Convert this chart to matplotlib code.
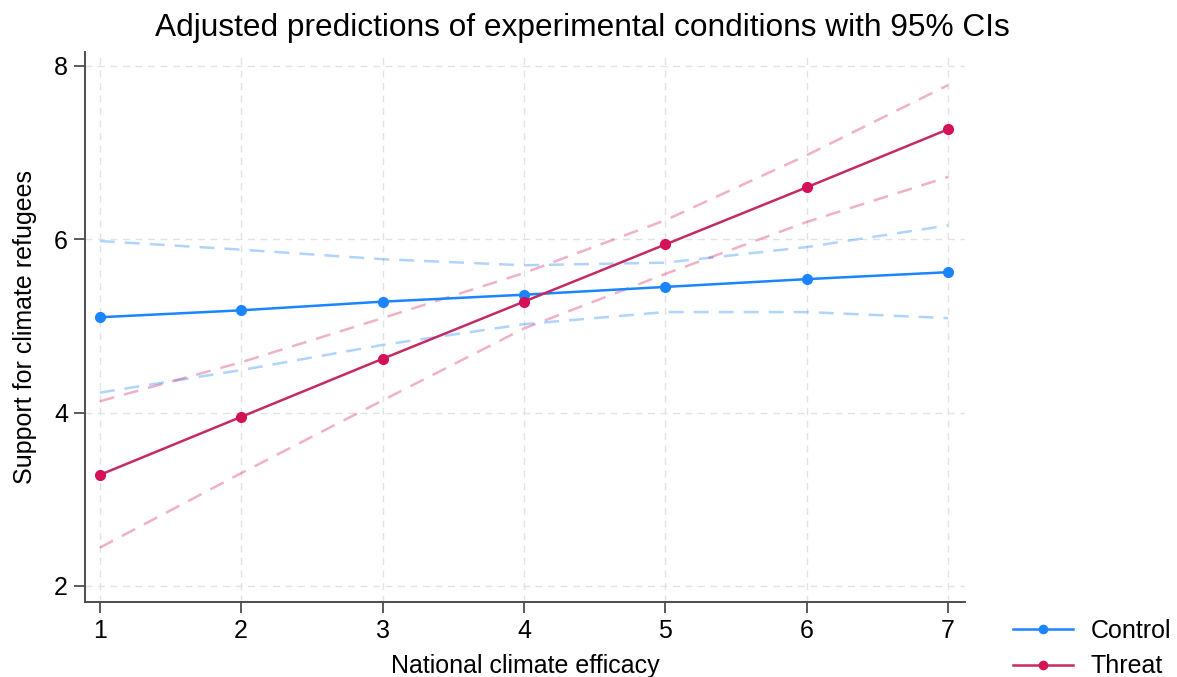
import matplotlib.pyplot as plt

plt.rcParams['font.family'] = ['Liberation Sans', 'DejaVu Sans']

efficacy = [1, 2, 3, 4, 5, 6, 7]

control = [5.10, 5.18, 5.28, 5.36, 5.45, 5.54, 5.62]
control_hi = [5.98, 5.88, 5.77, 5.70, 5.73, 5.91, 6.16]
control_lo = [4.23, 4.49, 4.78, 5.02, 5.16, 5.16, 5.09]

threat = [3.28, 3.95, 4.62, 5.28, 5.94, 6.60, 7.27]
threat_hi = [4.13, 4.58, 5.09, 5.61, 6.22, 6.97, 7.78]
threat_lo = [2.44, 3.30, 4.14, 4.97, 5.60, 6.20, 6.72]

blue = '#1a85ff'
red = '#d41159'
red_line = '#c42a63'

fig = plt.figure(figsize=(11.77, 6.77), dpi=100)
ax = fig.add_axes([0.072, 0.111, 0.748, 0.812])

ax.plot(efficacy, control_hi, ls=(0, (6, 4)), color=blue, alpha=0.35, lw=1.8)
ax.plot(efficacy, control_lo, ls=(0, (6, 4)), color=blue, alpha=0.35, lw=1.8)
ax.plot(efficacy, threat_hi, ls=(0, (6, 4)), color=red, alpha=0.33, lw=1.8)
ax.plot(efficacy, threat_lo, ls=(0, (6, 4)), color=red, alpha=0.33, lw=1.8)

ax.plot(efficacy, control, '-o', color=blue, lw=1.8, ms=7, label='Control')
ax.plot(efficacy, threat, '-o', color=red_line, mfc=red, mec=red,
        lw=1.8, ms=7, label='Threat')

ax.set_xlim(0.894, 7.12)
ax.set_ylim(1.815, 8.16)
ax.set_xticks(efficacy)
ax.set_yticks([2, 4, 6, 8])
ax.grid(True, ls=(0, (5, 4)), color='#e2e2e2', lw=1)
ax.set_axisbelow(True)

for s in ['top', 'right']:
    ax.spines[s].set_visible(False)
for s in ['left', 'bottom']:
    ax.spines[s].set_color('#4d4d4d')
    ax.spines[s].set_linewidth(1.4)
ax.tick_params(labelsize=18, length=8, width=1.3, color='#4d4d4d', pad=4)

ax.set_xlabel('National climate efficacy', fontsize=18, labelpad=8)
ax.set_ylabel('Support for climate refugees', fontsize=18, labelpad=12)

# title is centred over the whole graph, not just the plot area
fig.text(0.495, 0.958, 'Adjusted predictions of experimental conditions with 95% CIs',
         fontsize=22.8, ha='center', va='center')

ax.legend(loc='lower left', bbox_to_anchor=(1.029, -0.18), frameon=False,
          fontsize=18, handlelength=2.4, markerscale=0.85, labelspacing=0.45,
          handletextpad=0.7)

fig.savefig('out.png', dpi=100)
